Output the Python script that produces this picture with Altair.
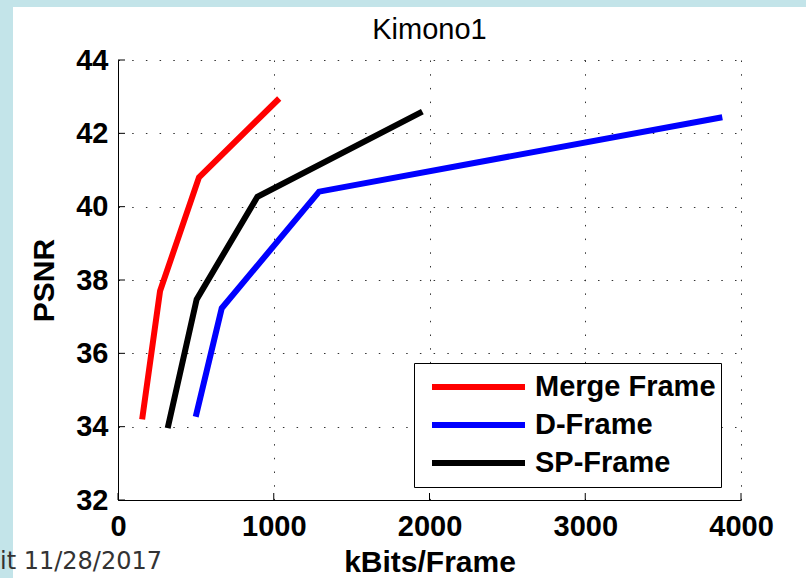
import altair as alt
import pandas as pd

# ---- data ----
series = ["Merge Frame", "D-Frame", "SP-Frame"]
colors = ["#ff0000", "#0000ff", "#000000"]

merge_x = [155, 270, 520, 1035]
merge_y = [34.2, 37.7, 40.8, 42.95]
dframe_x = [499, 666, 1291, 3880]
dframe_y = [34.27, 37.23, 40.41, 42.44]
sp_x = [319, 505, 895, 1954]
sp_y = [33.96, 37.47, 40.27, 42.59]

x_ticks = [0, 1000, 2000, 3000, 4000]
y_ticks = [32, 34, 36, 38, 40, 42, 44]

title_text = "Kimono1"
x_title = "kBits/Frame"
y_title = "PSNR"
footer_text = "it 11/28/2017"

rows = []
for name, xs, ys in zip(series, [merge_x, dframe_x, sp_x], [merge_y, dframe_y, sp_y]):
    for i, (xv, yv) in enumerate(zip(xs, ys)):
        rows.append({"series": name, "kbits": xv, "psnr": yv, "order": i})
df = pd.DataFrame(rows)

FONT = "Liberation Sans"
W, H = 623, 440

xscale = alt.Scale(domain=[0, 4000], nice=False, zero=False)
yscale = alt.Scale(domain=[32, 44], nice=False, zero=False)
xaxis = alt.Axis(title=x_title, values=x_ticks, format="d", labelFlush=False)
yaxis = alt.Axis(title=y_title, values=y_ticks, format="d", labelFlush=False)

lines = alt.Chart(df).mark_line(strokeWidth=6, strokeCap="butt", strokeJoin="miter").encode(
    x=alt.X("kbits:Q", scale=xscale, axis=xaxis),
    y=alt.Y("psnr:Q", scale=yscale, axis=yaxis),
    color=alt.Color("series:N", scale=alt.Scale(domain=series, range=colors),
                    legend=alt.Legend(
                        title=None, orient="none", legendX=296, legendY=303,
                        strokeColor="black", fillColor="white", padding=5,
                        symbolType="stroke", symbolSize=93 * 93, symbolStrokeWidth=6,
                        symbolOffset=10,
                        symbolOpacity=1, labelFontSize=29, labelFont=FONT,
                        labelFontWeight="bold",
                        labelColor="black", labelLimit=400, labelOffset=7,
                        clipHeight=38, rowPadding=0, cornerRadius=0)),
    order="order:Q",
)

ytick_df = pd.DataFrame({"v": y_ticks})
xtick_df = pd.DataFrame({"v": x_ticks})

yticks = alt.Chart(ytick_df).mark_rule(color="black", strokeWidth=1).encode(
    y=alt.Y("v:Q", scale=yscale, axis=yaxis),
    x=alt.value(0), x2=alt.value(7),
)
xticks = alt.Chart(xtick_df).mark_rule(color="black", strokeWidth=1).encode(
    x=alt.X("v:Q", scale=xscale, axis=xaxis),
    y=alt.value(H), y2=alt.value(H - 7),
)

one = pd.DataFrame({"a": [0]})
band_left = alt.Chart(one).mark_rect(color="#c3e4e9").encode(
    x=alt.value(-118), x2=alt.value(-105), y=alt.value(-60), y2=alt.value(H + 78))
band_top = alt.Chart(one).mark_rect(color="#c3e4e9").encode(
    x=alt.value(-118), x2=alt.value(W + 65), y=alt.value(-60), y2=alt.value(-53))
footer = alt.Chart(one).mark_text(
    text=footer_text, align="left", baseline="alphabetic", font="DejaVu Sans",
    fontSize=24, color="#333333").encode(x=alt.value(-118), y=alt.value(H + 69))
title = alt.Chart(one).mark_text(
    text=title_text, align="center", baseline="alphabetic", font=FONT,
    fontSize=29, color="black").encode(x=alt.value(W / 2), y=alt.value(-21))

chart = alt.layer(band_left, band_top, footer, title, lines, yticks, xticks).properties(
    width=W, height=H,
    autosize=alt.AutoSizeParams(type="none"),
    padding={"left": 118, "top": 60, "right": 65, "bottom": 78},
    background="white",
).configure_view(stroke=None).configure_axis(
    labelFont=FONT, labelFontSize=29, labelColor="black", labelFontWeight="bold",
    titleFont=FONT, titleFontSize=30, titleColor="black", titleFontWeight="bold",
    domainColor="black", domainWidth=1, ticks=False,
    grid=True, gridColor="#333333", gridDash=[1.5, 12.2], gridWidth=1, gridOpacity=1,
).configure_axisX(titlePadding=6, labelPadding=12).configure_axisY(titlePadding=16, labelPadding=10)

chart.save("out.html", embed_options={"renderer": "svg", "actions": False})
